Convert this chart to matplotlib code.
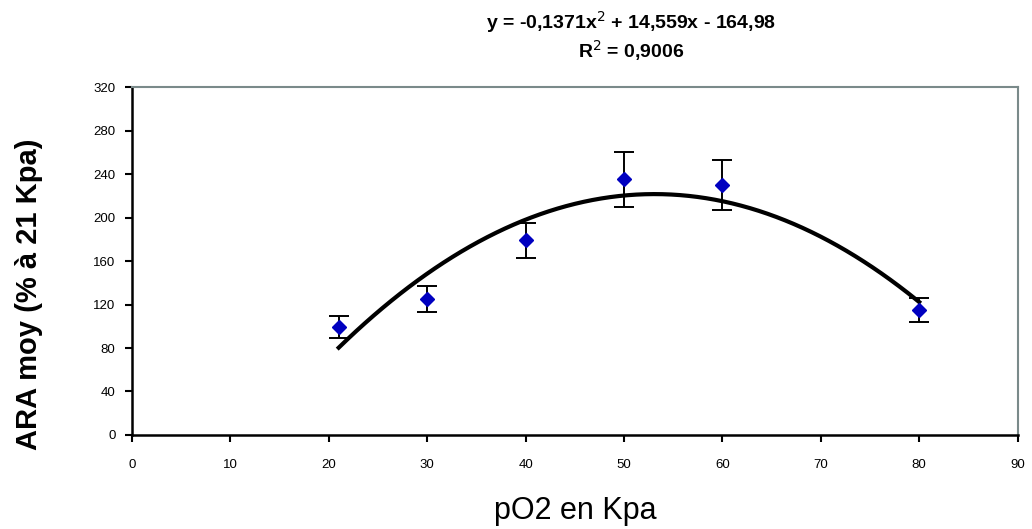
import matplotlib
matplotlib.use("Agg")
import matplotlib.pyplot as plt
import numpy as np

# Mesures (pO2 en kPa, ARA moyenne en % de la valeur à 21 kPa)
po2 = [21, 30, 40, 50, 60, 80]
ara = [99, 125, 179, 235, 230, 115]
ara_err = [10, 12, 16, 25, 23, 11]

# Courbe de tendance polynomiale (ordre 2) affichée sur le graphique
trend_coef = [-0.1371, 14.559, -164.98]
trend_label = "y = -0,1371x$^{2}$ + 14,559x - 164,98"
r2_label = "R$^{2}$ = 0,9006"

x_ticks = list(range(0, 91, 10))
y_ticks = list(range(0, 321, 40))

plt.rcParams["font.family"] = ["Liberation Sans", "DejaVu Sans"]

fig = plt.figure(figsize=(10.32, 5.29), dpi=100)
ax = fig.add_axes([0.128, 0.1777, 0.858, 0.6578])

# Trendline
xs = np.linspace(min(po2), max(po2), 200)
ax.plot(xs, np.polyval(trend_coef, xs), color="black", linewidth=3, zorder=2)

# Points + error bars
ax.errorbar(po2, ara, yerr=ara_err, fmt="D", color="#0000c0", markersize=7.5,
            ecolor="black", elinewidth=1.4, capsize=7, capthick=1.4, zorder=3)

ax.set_xlim(0, 90)
ax.set_ylim(0, 320)
ax.set_xticks(x_ticks)
ax.set_yticks(y_ticks)
ax.tick_params(direction="out", length=5, width=1.5, labelsize=9.5)
ax.tick_params(axis="x", pad=12)
ax.tick_params(axis="y", pad=7)

for side in ("left", "bottom"):
    ax.spines[side].set_color("black")
    ax.spines[side].set_linewidth(1.8)
for side in ("top", "right"):
    ax.spines[side].set_color("#7a8a8a")
    ax.spines[side].set_linewidth(1.5)

ax.set_xlabel("pO2 en Kpa", fontsize=22, labelpad=18)
ax.set_ylabel("ARA moy (% à 21 Kpa)", fontsize=21, fontweight="bold")
ax.yaxis.set_label_coords(-0.101, 0.405)

fig.text(0.612, 0.958, trend_label, ha="center", va="center",
         fontsize=14, fontweight="bold")
fig.text(0.612, 0.905, r2_label, ha="center", va="center",
         fontsize=14, fontweight="bold")

fig.savefig("out.png", dpi=100)
